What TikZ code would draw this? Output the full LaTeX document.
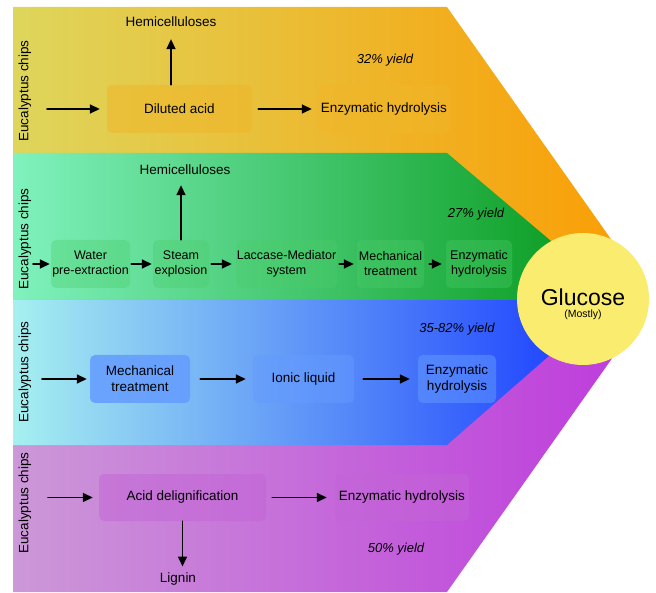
\documentclass[tikz,border=0pt]{standalone}
\usepackage{fontspec}
\setmainfont{Liberation Sans}
\usetikzlibrary{arrows.meta}

\definecolor{olivey}{RGB}{222,214,92}
\definecolor{orangey}{RGB}{250,158,5}
\definecolor{mintg}{RGB}{128,242,190}
\definecolor{darkg}{RGB}{8,155,30}
\definecolor{paleb}{RGB}{166,240,240}
\definecolor{deepb}{RGB}{25,60,255}
\definecolor{lavp}{RGB}{204,152,216}
\definecolor{deepp}{RGB}{190,60,220}
\definecolor{glu}{RGB}{249,236,110}
\definecolor{boxo}{RGB}{240,182,42}
\definecolor{boxg}{RGB}{75,205,105}
\definecolor{boxb}{RGB}{100,155,255}
\definecolor{boxp}{RGB}{195,100,215}

\begin{document}
\begin{tikzpicture}[x=1pt,y=-1pt,line cap=round]
	\tikzstyle{proc}=[rounded corners=5pt,inner sep=0pt,align=center,text opacity=1,font=\fontsize{13.5}{16}\selectfont];
	\tikzstyle{procs}=[proc,font=\fontsize{12.5}{15}\selectfont];
	\tikzstyle{txt}=[inner sep=0pt,font=\fontsize{13.5}{16}\selectfont];
	\tikzstyle{yield}=[inner sep=0pt,font=\fontsize{13}{15}\selectfont\itshape];
	\tikzstyle{chips}=[txt,rotate=90];
	\tikzstyle{arr}=[line width=1.6pt,-{Triangle[length=10pt,width=9pt]}];
	\useasboundingbox (0,0) rectangle (656,593);
	%% bands
	\shade[left color=olivey,right color=orangey] (13,7) -- (447,7) -- (625,259) -- (583,299) -- (13,299) -- cycle;
	\shade[left color=mintg,right color=darkg] (13,153) -- (447,153) -- (590,274) -- (590,300) -- (13,300) -- cycle;
	\shade[left color=lavp,right color=deepp] (13,300) -- (583,300) -- (625,340) -- (447,592) -- (13,592) -- cycle;
	\shade[left color=paleb,right color=deepb] (13,300) -- (590,300) -- (590,320) -- (447,445) -- (13,445) -- cycle;
	%% glucose
	\node[circle,fill=glu,minimum size=132pt,inner sep=0pt] (G) at (583,299) {};
	\node[inner sep=0pt,font=\fontsize{23}{25}\selectfont] (glc) at (583,297) {Glucose};
	\node[inner sep=0pt,font=\fontsize{10.5}{12}\selectfont] (mostly) at (583,315) {(Mostly)};
	%% band 1
	\node[chips] (eu1) at (25,91) {Eucalyptus chips};
	\node[txt] (hem1) at (171,22) {Hemicelluloses};
	\node[yield] (y1) at (385,60) {32\% yield};
	\node[proc,fill=boxo,fill opacity=0.55,minimum width=145pt,minimum height=48pt] (dil) at (179.5,109) {Diluted acid};
	\node[proc,fill=boxo,fill opacity=0.55,minimum width=132pt,minimum height=48pt] (enz1) at (384,109) {Enzymatic hydrolysis};
	\coordinate (in1) at (47,109);
	\draw[arr,shorten >=7pt] (in1) -- (dil.west);
	\draw[arr,shorten <=6pt,shorten >=6pt] (dil.east) -- (enz1.west);
	\draw[arr,shorten >=12pt] (dil.north -| hem1) -- (hem1.south);
	%% band 2
	\node[chips] (eu2) at (25,239) {Eucalyptus chips};
	\node[txt] (hem2) at (185,170) {Hemicelluloses};
	\node[yield] (y2) at (476,214) {27\% yield};
	\node[procs,fill=boxg,fill opacity=0.35,minimum width=79pt,minimum height=48pt] (water) at (90.5,264) {Water\\pre-extraction};
	\node[procs,fill=boxg,fill opacity=0.35,minimum width=56pt,minimum height=48pt] (steam) at (181,264) {Steam\\explosion};
	\node[procs,fill=boxg,fill opacity=0.35,minimum width=101pt,minimum height=48pt] (lacc) at (286.5,264) {Laccase-Mediator\\system};
	\node[procs,fill=boxg,fill opacity=0.35,minimum width=67pt,minimum height=48pt] (mech2) at (390.5,264) {Mechanical\\treatment};
	\node[procs,fill=boxg,fill opacity=0.35,minimum width=66pt,minimum height=48pt] (enz2) at (479,264) {Enzymatic\\hydrolysis};
	\coordinate (in2) at (33,264);
	\draw[arr,shorten >=1pt] (in2) -- (water.west);
	\draw[arr,shorten <=1pt,shorten >=1pt] (water) -- (steam);
	\draw[arr,shorten <=2pt,shorten >=4pt] (steam) -- (lacc);
	\draw[arr,shorten <=2pt,shorten >=3pt] (lacc) -- (mech2);
	\draw[arr,shorten <=5pt,shorten >=4pt] (mech2) -- (enz2);
	\draw[arr,shorten >=10pt] (steam.north) -- (steam.north |- hem2.south);
	%% band 3
	\node[chips] (eu3) at (25,372) {Eucalyptus chips};
	\node[yield] (y3) at (457,329) {35-82\% yield};
	\node[proc,fill=boxb,fill opacity=0.85,minimum width=100pt,minimum height=48pt] (mech3) at (140,379) {Mechanical\\treatment};
	\node[proc,fill=boxb,fill opacity=0.5,minimum width=101pt,minimum height=48pt] (ionic) at (303.5,379) {Ionic liquid};
	\node[proc,fill=boxb,fill opacity=0.5,minimum width=78pt,minimum height=48pt] (enz3) at (457,379) {Enzymatic\\hydrolysis};
	\coordinate (in3) at (42,379);
	\draw[arr,shorten >=3pt] (in3) -- (mech3.west);
	\draw[arr,shorten <=10pt,shorten >=7pt] (mech3) -- (ionic);
	\draw[arr,shorten <=9pt,shorten >=8pt] (ionic) -- (enz3);
	%% band 4
	\node[chips] (eu4) at (25,503) {Eucalyptus chips};
	\node[yield] (y4) at (396,549) {50\% yield};
	\node[txt] (lig) at (178,579) {Lignin};
	\node[proc,fill=boxp,fill opacity=0.5,minimum width=167pt,minimum height=47pt] (acid) at (182.5,497.5) {Acid delignification};
	\node[proc,fill=boxp,fill opacity=0.5,minimum width=134pt,minimum height=47pt] (enz4) at (402,497.5) {Enzymatic hydrolysis};
	\coordinate (in4) at (48,497.5);
	\draw[arr,shorten >=6pt] (in4) -- (acid.west);
	\draw[arr,shorten <=6pt,shorten >=8pt] (acid) -- (enz4);
	\draw[arr,shorten >=6pt] (acid.south) -- (acid.south |- lig.north);
\end{tikzpicture}
\end{document}
